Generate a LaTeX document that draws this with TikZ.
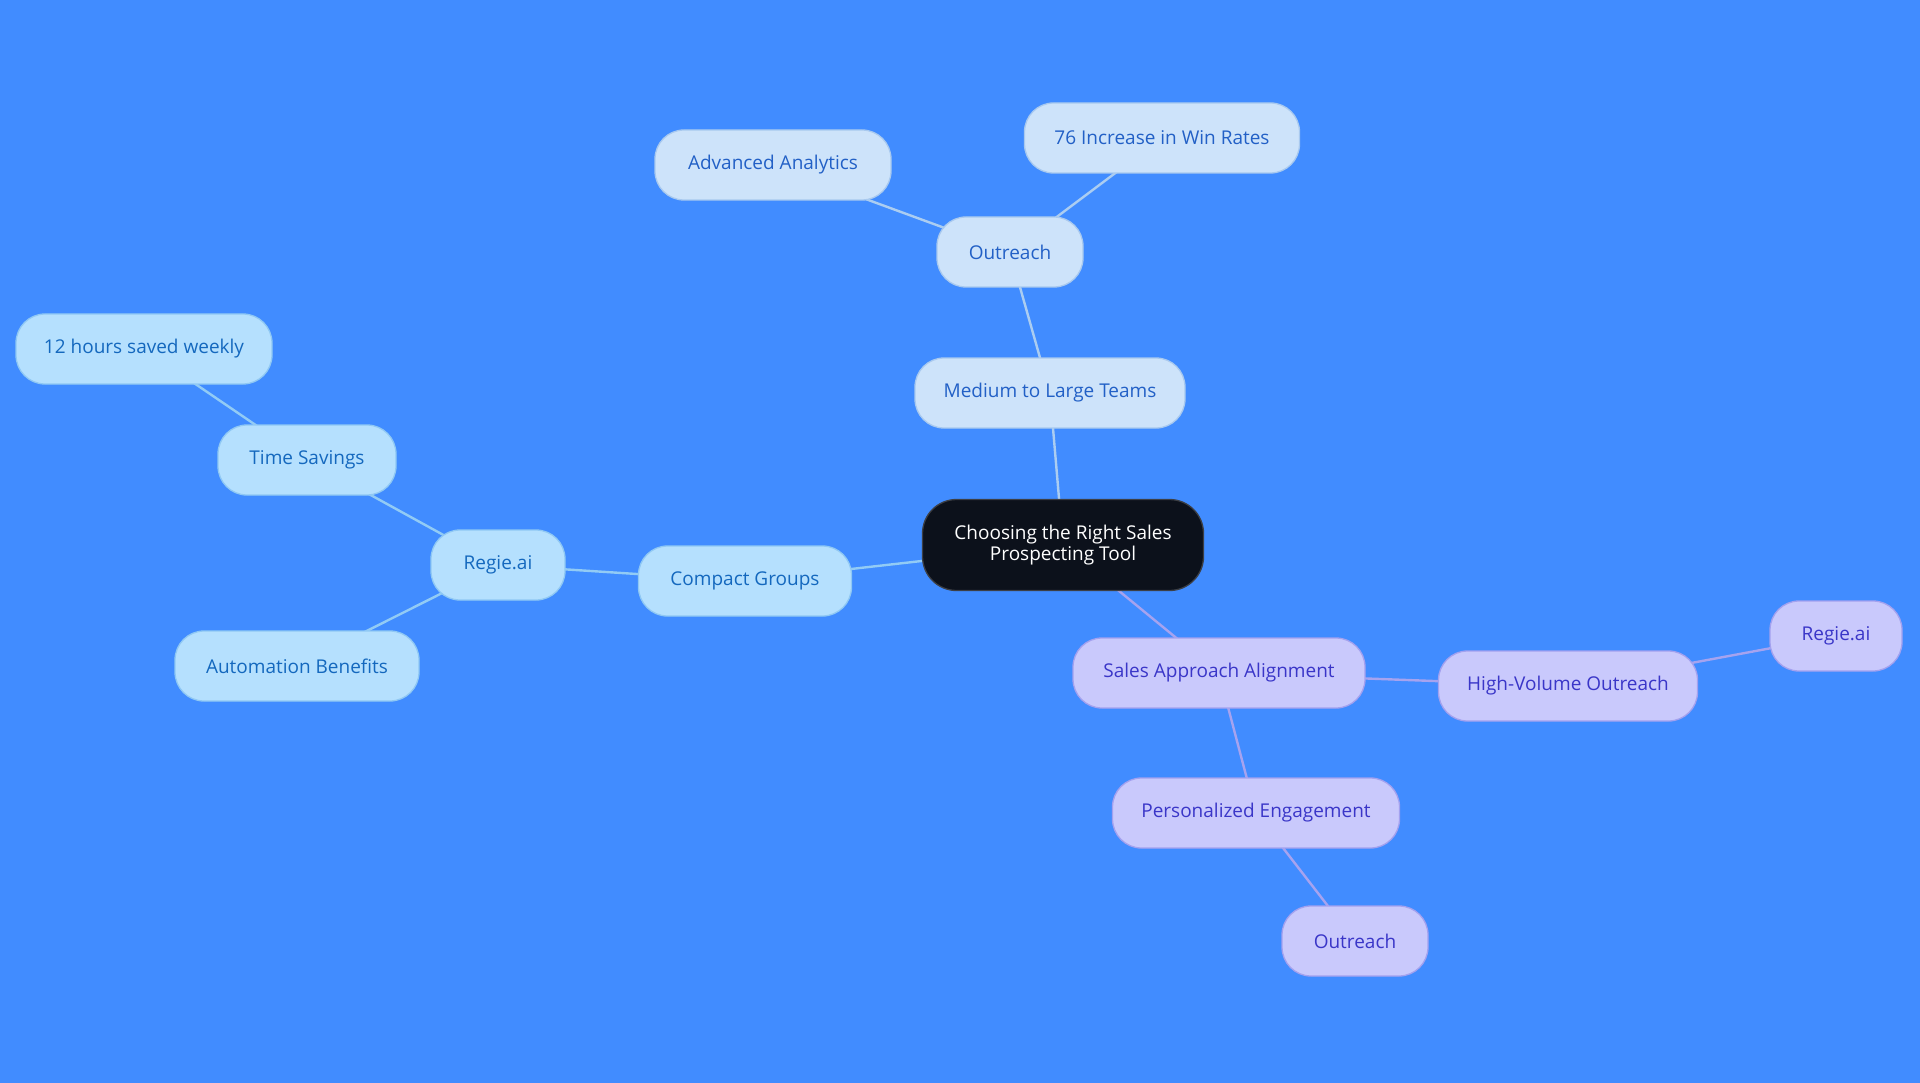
\documentclass[tikz,border=0pt]{standalone}
\usepackage{fontspec}
\setmainfont{Open Sans}
\setsansfont{Open Sans}
\usepackage{tikz}
\definecolor{bgblue}{HTML}{418CFF}
\definecolor{rootfill}{HTML}{0C111B}
\definecolor{rootframe}{HTML}{3C3F45}
\definecolor{leftfill}{HTML}{B5E0FE}
\definecolor{leftframe}{HTML}{8FC8F4}
\definecolor{lefttext}{HTML}{1468BE}
\definecolor{leftline}{HTML}{92CBF5}
\definecolor{topfill}{HTML}{CDE3FA}
\definecolor{topframe}{HTML}{A8C9EF}
\definecolor{toptext}{HTML}{2260C6}
\definecolor{topline}{HTML}{ABCDF1}
\definecolor{rightfill}{HTML}{C9C9FC}
\definecolor{rightframe}{HTML}{A3A1EF}
\definecolor{righttext}{HTML}{3A36C8}
\definecolor{rightline}{HTML}{A6A3EF}
\pgfdeclarelayer{links}
\pgfsetlayers{links,main}

\begin{document}
\begin{tikzpicture}[
    x=1pt, y=-1pt,
    every node/.style={font=\sffamily\fontsize{19}{21}\selectfont},
    idea/.style={rectangle, rounded corners=29pt, line width=1.3pt,
                 minimum height=70pt, inner xsep=0pt, align=center},
    leftidea/.style={idea, fill=leftfill, draw=leftframe, text=lefttext},
    topidea/.style={idea, fill=topfill, draw=topframe, text=toptext},
    rightidea/.style={idea, fill=rightfill, draw=rightframe, text=righttext},
    link/.style={line width=2.4pt}
]
    \useasboundingbox (0,0) rectangle (1920,1083);

    % === ROOT ===
    \node[rectangle, rounded corners=34pt, fill=rootfill, draw=rootframe, line width=1.3pt,
          text=white, minimum width=281pt, minimum height=91pt, align=center,
          font=\sffamily\fontsize{19}{20.5}\selectfont] (root) at (1063,545)
          {Choosing the Right Sales\\Prospecting Tool};

    % === TOP BRANCH ===
    \node[topidea, minimum width=270pt] (teams) at (1050,393) {Medium to Large Teams};
    \node[topidea, minimum width=146pt] (outtop) at (1010,252) {Outreach};
    \node[topidea, minimum width=236pt] (analytics) at (773,165) {Advanced Analytics};
    \node[topidea, minimum width=275pt] (winrates) at (1162,138) {76 Increase in Win Rates};

    % === LEFT BRANCH ===
    \node[leftidea, minimum width=213pt] (compact) at (745,581) {Compact Groups};
    \node[leftidea, minimum width=134pt] (regleft) at (498,565) {Regie.ai};
    \node[leftidea, minimum width=178pt] (timesave) at (307,460) {Time Savings};
    \node[leftidea, minimum width=256pt] (hours) at (144,349) {12 hours saved weekly};
    \node[leftidea, minimum width=244pt] (autoben) at (297,666) {Automation Benefits};

    % === RIGHT BRANCH ===
    \node[rightidea, minimum width=292pt] (salesalign) at (1219,673) {Sales Approach Alignment};
    \node[rightidea, minimum width=259pt] (highvol) at (1568,686) {High-Volume Outreach};
    \node[rightidea, minimum width=132pt] (regright) at (1836,636) {Regie.ai};
    \node[rightidea, minimum width=287pt] (personal) at (1256,813) {Personalized Engagement};
    \node[rightidea, minimum width=146pt] (outbot) at (1355,941) {Outreach};

    % === LINKS (behind the nodes) ===
    \begin{pgfonlayer}{links}
        \fill[bgblue] (0,0) rectangle (1920,1083);

        \draw[link, topline] (root.center) -- (teams.center);
        \draw[link, topline] (teams.center) -- (outtop.center);
        \draw[link, topline] (outtop.center) -- (analytics.center);
        \draw[link, topline] (outtop.center) -- (winrates.center);

        \draw[link, leftline] (root.center) -- (compact.center);
        \draw[link, leftline] (compact.center) -- (regleft.center);
        \draw[link, leftline] (regleft.center) -- (timesave.center);
        \draw[link, leftline] (timesave.center) -- (hours.center);
        \draw[link, leftline] (regleft.center) -- (autoben.center);

        \draw[link, rightline] (root.center) -- (salesalign.center);
        \draw[link, rightline] (salesalign.center) -- (highvol.center);
        \draw[link, rightline] (highvol.center) -- (regright.center);
        \draw[link, rightline] (salesalign.center) -- (personal.center);
        \draw[link, rightline] (personal.center) -- (outbot.center);
    \end{pgfonlayer}
\end{tikzpicture}
\end{document}
